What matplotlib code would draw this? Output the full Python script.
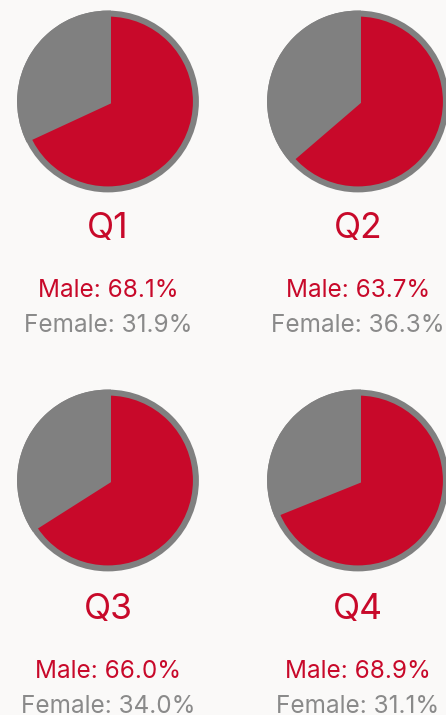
import matplotlib.pyplot as plt
from matplotlib.patches import Circle

quarters = ['Q1', 'Q2', 'Q3', 'Q4']
male = [68.1, 63.7, 66.0, 68.9]
female = [31.9, 36.3, 34.0, 31.1]

red = '#c8092a'
gray = '#808080'
txt_gray = '#8a8a8a'
bg = '#faf9f8'

plt.rcParams['font.family'] = ['Inter', 'DejaVu Sans']

W, H = 446, 715
fig = plt.figure(figsize=(W/100, H/100), dpi=100, facecolor=bg)

# pixel positions: pie centers, text baselines
cx = [108, 358, 108, 358]
cy = [101.5, 101.5, 480.5, 480.5]
row_off = [0, 0, 381, 381]

for i in range(4):
    size = 200
    ax = fig.add_axes([(cx[i]-size/2)/W, 1-(cy[i]+size/2)/H, size/W, size/H])
    r = 0.967
    wedges, _ = ax.pie([male[i], female[i]], colors=[red, gray], startangle=90,
                       counterclock=False, radius=r)
    wedges[1].set_edgecolor(gray)
    wedges[1].set_linewidth(4.3)
    ax.add_patch(Circle((0, 0), r, fill=False, ec=gray, lw=4.3))
    ax.set_xlim(-1.1, 1.1)
    ax.set_ylim(-1.1, 1.1)
    ax.set_aspect('equal')
    ax.axis('off')

    x = cx[i]/W
    fig.text(x, 1-(238+row_off[i])/H, quarters[i], ha='center', va='baseline',
             fontsize=25.5, color=red)
    fig.text(x, 1-(297+row_off[i])/H, 'Male: {:.1f}%'.format(male[i]), ha='center',
             va='baseline', fontsize=17.5, color=red)
    fig.text(x, 1-(332+row_off[i])/H, 'Female: {:.1f}%'.format(female[i]), ha='center',
             va='baseline', fontsize=17.5, color=txt_gray)

fig.savefig('out.png', dpi=100, facecolor=bg)
